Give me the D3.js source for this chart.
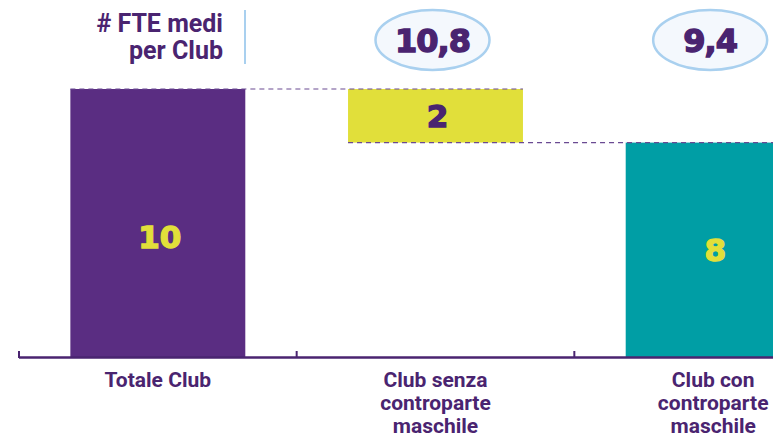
<!DOCTYPE html>
<html>
<head>
<meta charset="utf-8">
<script src="https://cdn.jsdelivr.net/npm/d3@7"></script>
<style>
  body { margin: 0; background: #fff; }
  svg { display: block; }
</style>
</head>
<body>
<div id="chart"></div>
<script>
// data
const categories = ["Totale Club", "Club senza contropare maschile", "Club con controparte maschile"];
const labelLines = [["Totale Club"], ["Club senza", "controparte", "maschile"], ["Club con", "controparte", "maschile"]];
const barStart = [0, 8, 0];   // waterfall base
const barValue = [10, 2, 8];
const labelAt = [4.5, 9, 4];  // value where the number sits
const barColors = ["#5a2d82", "#e1df3a", "#009ea5"];
const valueColors = ["#e1df3a", "#4a2470", "#e1df3a"];
const fteMedi = [null, "10,8", "9,4"];

const W = 773, H = 438;
const purple = "#4a2470";

const svg = d3.select("#chart").append("svg")
    .attr("width", W)
    .attr("height", H);

const x = d3.scaleBand()
    .domain(categories)
    .range([19, 852])
    .paddingInner(0)
    .paddingOuter(0);

const y = d3.scaleLinear()
    .domain([0, 10])
    .range([357, 89]);

const barW = x.bandwidth() * 0.63;
const cx = d => x(d) + x.bandwidth() / 2;

// bars
svg.selectAll("rect.bar")
    .data(categories)
    .enter()
    .append("rect")
    .attr("class", "bar")
    .attr("x", d => cx(d) - barW / 2)
    .attr("y", (d, i) => y(barStart[i] + barValue[i]))
    .attr("width", barW)
    .attr("height", (d, i) => y(barStart[i]) - y(barStart[i] + barValue[i]))
    .style("fill", (d, i) => barColors[i]);

// dashed connectors
const connectors = [
    { x1: cx(categories[0]) - barW / 2, x2: cx(categories[1]) + barW / 2, v: 10 },
    { x1: cx(categories[1]) - barW / 2, x2: W, v: 8 }
];
svg.selectAll("line.conn")
    .data(connectors)
    .enter()
    .append("line")
    .attr("x1", d => d.x1)
    .attr("x2", d => d.x2)
    .attr("y1", d => y(d.v))
    .attr("y2", d => y(d.v))
    .attr("stroke", "#6a4a92")
    .attr("stroke-width", 1.2)
    .attr("stroke-dasharray", "5,4");

// value labels
svg.selectAll("text.val")
    .data(categories)
    .enter()
    .append("text")
    .attr("x", d => cx(d) + 2)
    .attr("y", (d, i) => y(labelAt[i]))
    .attr("dy", "0.36em")
    .attr("text-anchor", "middle")
    .style("font-family", "'DejaVu Sans', sans-serif")
    .style("font-weight", "bold")
    .style("font-size", "31px")
    .style("fill", (d, i) => valueColors[i])
    .style("stroke", (d, i) => valueColors[i])
    .style("stroke-width", 1.4)
    .text((d, i) => barValue[i]);

// axis
svg.append("line")
    .attr("x1", 19).attr("x2", W)
    .attr("y1", 357.5).attr("y2", 357.5)
    .attr("stroke", purple)
    .attr("stroke-width", 2.5);

svg.selectAll("line.tick")
    .data(categories)
    .enter()
    .append("line")
    .attr("x1", d => x(d)).attr("x2", d => x(d))
    .attr("y1", 351).attr("y2", 358)
    .attr("stroke", purple)
    .attr("stroke-width", 2);

// category labels
const lbl = svg.selectAll("text.cat")
    .data(categories)
    .enter()
    .append("text")
    .attr("text-anchor", "middle")
    .style("font-family", "Roboto, sans-serif")
    .style("font-weight", "bold")
    .style("font-size", "21px")
    .style("fill", purple)
    .attr("transform", d => `translate(${cx(d)},387)`);

lbl.each(function(d, i) {
    d3.select(this).selectAll("tspan")
        .data(labelLines[i])
        .enter()
        .append("tspan")
        .attr("x", 0)
        .attr("y", (t, j) => j * 23)
        .text(t => t);
});

// header
svg.append("text")
    .attr("text-anchor", "end")
    .style("font-family", "Roboto, sans-serif")
    .style("font-weight", "bold")
    .style("font-size", "25px")
    .style("fill", purple)
    .selectAll("tspan")
    .data(["# FTE medi", "per Club"])
    .enter()
    .append("tspan")
    .attr("x", 223)
    .attr("y", (d, i) => 32 + i * 27)
    .text(d => d);

svg.append("line")
    .attr("x1", 245).attr("x2", 245)
    .attr("y1", 10).attr("y2", 64)
    .attr("stroke", "#a9d0ef")
    .attr("stroke-width", 2);

// ellipses with FTE
const ell = svg.selectAll("g.fte")
    .data(categories.filter((d, i) => fteMedi[i] !== null))
    .enter()
    .append("g")
    .attr("transform", d => `translate(${cx(d) - 3},40)`);

ell.append("ellipse")
    .attr("rx", 57)
    .attr("ry", 30)
    .attr("fill", "#f4f8fd")
    .attr("stroke", "#a9d0ef")
    .attr("stroke-width", 2.5);

ell.append("text")
    .attr("text-anchor", "middle")
    .attr("dy", "0.36em")
    .style("font-family", "'DejaVu Sans', sans-serif")
    .style("font-weight", "bold")
    .style("font-size", "32px")
    .style("letter-spacing", "-1px")
    .style("fill", purple)
    .style("stroke", purple)
    .style("stroke-width", 1.4)
    .text(d => fteMedi[categories.indexOf(d)]);
</script>
</body>
</html>
